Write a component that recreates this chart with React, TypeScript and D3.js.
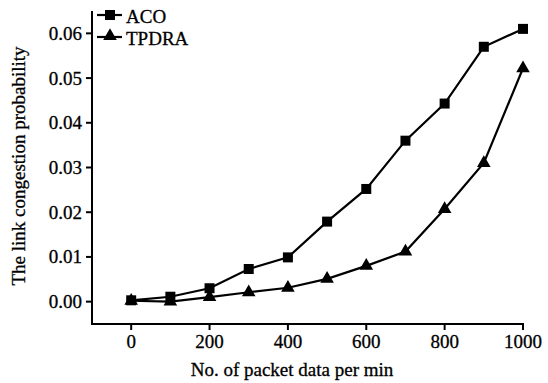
import * as d3 from "d3";

const xValues = [0, 100, 200, 300, 400, 500, 600, 700, 800, 900, 1000];
const acoValues = [0.0003, 0.0011, 0.003, 0.0073, 0.0099, 0.0179, 0.0252, 0.036, 0.0443, 0.057, 0.061];
const tpdraValues = [0.0002, 0.0, 0.001, 0.0021, 0.0031, 0.0051, 0.008, 0.0112, 0.0207, 0.031, 0.0522];
const xTicks = [0, 200, 400, 600, 800, 1000];
const yTicks = [0, 0.01, 0.02, 0.03, 0.04, 0.05, 0.06];

const WIDTH = 548;
const HEIGHT = 383;
const TXT = { fontFamily: "Liberation Serif, serif", fontSize: 19 };

function App() {
  const xScale = d3.scaleLinear().domain([-100, 1000]).range([92, 523]);
  const yScale = d3.scaleLinear().domain([-0.005, 0.065]).range([324, 11]);

  const line = d3
    .line<number>()
    .x((_, i) => xScale(xValues[i]))
    .y((d) => yScale(d));

  const square = d3.symbol().type(d3.symbolSquare).size(100)();
  const triangle = d3.symbol().type(d3.symbolTriangle).size(80)();

  return (
    <svg
      width={WIDTH}
      height={HEIGHT}
      style={{ position: "absolute", left: 0, top: 0, background: "#fff" }}
    >
      {/* axes */}
      <line x1={92} x2={92} y1={yScale(0.065)} y2={yScale(-0.005)} stroke="#000" strokeWidth={2} />
      <line x1={91} x2={xScale(1000) + 1} y1={yScale(-0.005)} y2={yScale(-0.005)} stroke="#000" strokeWidth={2} />

      {yTicks.map((t, i) => (
        <g key={i}>
          <line x1={86} x2={92} y1={yScale(t)} y2={yScale(t)} stroke="#000" strokeWidth={2} />
          <text x={82} y={yScale(t)} textAnchor="end" dominantBaseline="central" style={TXT} stroke="#000" strokeWidth={0.3}>
            {t.toFixed(2)}
          </text>
        </g>
      ))}

      {xTicks.map((t, i) => (
        <g key={i}>
          <line x1={xScale(t)} x2={xScale(t)} y1={324} y2={330} stroke="#000" strokeWidth={2} />
          <text x={xScale(t)} y={348} textAnchor="middle" style={TXT} stroke="#000" strokeWidth={0.3}>
            {t}
          </text>
        </g>
      ))}

      <text x={292} y={376} textAnchor="middle" style={TXT} stroke="#000" strokeWidth={0.3}>
        No. of packet data per min
      </text>
      <text
        transform={`translate(25,166) rotate(-90)`}
        textAnchor="middle"
        style={TXT}
        stroke="#000"
        strokeWidth={0.3}
      >
        The link congestion probability
      </text>

      {/* series */}
      <path d={line(acoValues) ?? ""} fill="none" stroke="#000" strokeWidth={2.2} />
      <path d={line(tpdraValues) ?? ""} fill="none" stroke="#000" strokeWidth={2.2} />
      {acoValues.map((v, i) => (
        <path key={"a" + i} d={square ?? ""} transform={`translate(${xScale(xValues[i])},${yScale(v)})`} fill="#000" />
      ))}
      {tpdraValues.map((v, i) => (
        <path key={"t" + i} d={triangle ?? ""} transform={`translate(${xScale(xValues[i])},${yScale(v)})`} fill="#000" />
      ))}

      {/* legend */}
      <g>
        <line x1={97} x2={122} y1={15} y2={15} stroke="#000" strokeWidth={2.2} />
        <path d={square ?? ""} transform="translate(110,15)" fill="#000" />
        <text x={126} y={16} dominantBaseline="central" style={TXT} stroke="#000" strokeWidth={0.3}>ACO</text>
        <line x1={97} x2={122} y1={37} y2={37} stroke="#000" strokeWidth={2.2} />
        <path d={triangle ?? ""} transform="translate(110,36)" fill="#000" />
        <text x={126} y={38} dominantBaseline="central" style={TXT} stroke="#000" strokeWidth={0.3}>TPDRA</text>
      </g>
    </svg>
  );
}

export default App;
